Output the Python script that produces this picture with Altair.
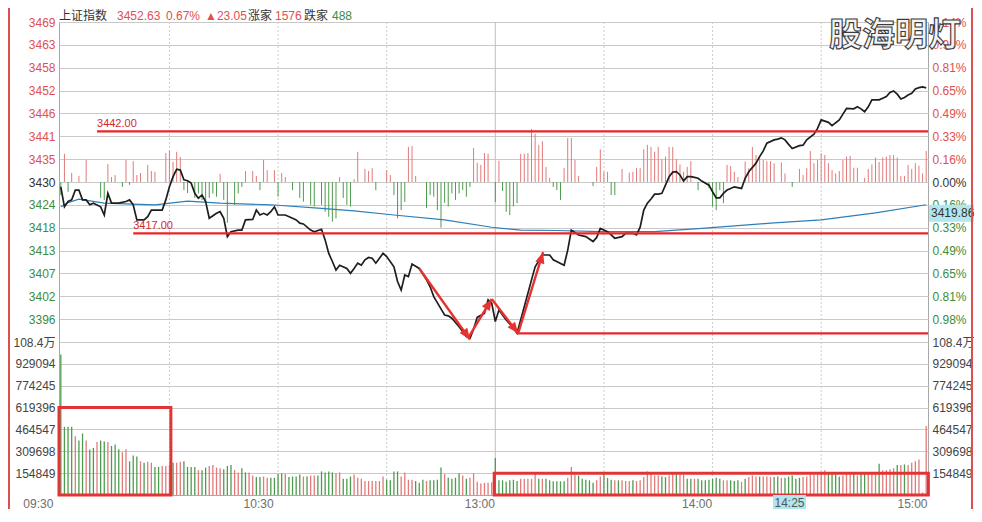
import json
import math
import altair as alt
import pandas as pd

# ------------------------------------------------------------------ data
PRE_CLOSE = 3429.58          # previous close (0.00% line)
PRICE_STEP = 5.6             # price per grid row
VOL_STEP = 154.849           # volume (thousand) per grid row

header_name = "上证指数"
header_last = "3452.63"
header_pct = "0.67%"
header_change = "▲23.05"
header_up_label = "涨家"
header_up_count = "1576"
header_down_label = "跌家"
header_down_count = "488"

price_tick_labels = ["3396", "3402", "3407", "3413", "3418", "3424", "3430",
                     "3435", "3441", "3446", "3452", "3458", "3463", "3469"]
pct_tick_labels = ["0.98%", "0.81%", "0.65%", "0.49%", "0.33%", "0.16%", "0.00%",
                   "0.16%", "0.33%", "0.49%", "0.65%", "0.81%", "0.98%", "1.14%"]
vol_tick_labels = ["154849", "309698", "464547", "619396", "774245", "929094", "108.4万"]
time_tick_minutes = [0, 60, 120, 180, 239.5]
time_tick_labels = ["09:30", "10:30", "13:00", "14:00", "15:00"]
grid_minutes_dashed = [30, 60, 90, 150, 180, 210]
grid_minutes_solid = [120]

# minute index (0 = 09:30, 120 = 13:00) -> index level
price_track = [
    (0, 3428.4), (1, 3423.5), (2, 3424.8), (3, 3425.2), (4, 3427.6), (5, 3427.6),
    (6, 3425.2), (7, 3425.2), (8, 3424.0), (9, 3424.4), (11, 3423.5), (12, 3421.5),
    (13, 3426.8), (14, 3424.4), (16, 3424.4), (18, 3424.8), (19, 3425.2), (20, 3424.0),
    (21, 3420.3), (23, 3420.3), (24, 3421.1), (25, 3422.7), (26, 3422.7), (28, 3422.7),
    (29, 3425.2), (30, 3428.4), (31, 3430.9), (32, 3432.7), (33, 3432.5), (34, 3430.1),
    (35, 3429.9), (36, 3429.3), (37, 3426.8), (38, 3425.6), (39, 3426.4), (40, 3424.8),
    (41, 3420.7), (43, 3421.9), (44, 3422.3), (45, 3420.7), (46, 3416.2), (47, 3417.4),
    (49, 3417.8), (50, 3417.8), (51, 3420.3), (53, 3420.4), (54, 3422.7), (55, 3421.5),
    (56, 3421.9), (57, 3421.5), (58, 3422.3), (59, 3423.5), (60, 3421.5), (62, 3421.5),
    (64, 3420.7), (65, 3420.3), (66, 3419.5), (67, 3419.3), (69, 3417.8), (70, 3417.4),
    (72, 3418.0), (73, 3415.4), (74, 3412.1), (75, 3410.1), (76, 3408.0), (77, 3409.2),
    (79, 3408.4), (80, 3407.2), (81, 3408.4), (82, 3409.7), (83, 3409.2), (84, 3410.5),
    (85, 3411.1), (86, 3410.9), (87, 3409.7), (88, 3410.9), (89, 3412.1), (90, 3411.3),
    (92, 3408.8), (93, 3405.2), (94, 3403.1), (95, 3406.8), (96, 3406.4), (97, 3409.5),
    (99, 3408.4), (101, 3405.6), (102, 3403.9), (103, 3401.5), (105, 3398.5), (106, 3397.0),
    (107, 3396.8), (108, 3396.2), (110, 3394.1), (112, 3391.7), (113, 3391.3), (114, 3393.5),
    (115, 3396.4), (117, 3397.4), (118, 3400.7), (119, 3399.9),
    (120, 3395.4), (121, 3398.2), (122, 3397.0), (123, 3395.8), (125, 3393.8), (126, 3392.5),
    (128, 3399.0), (130, 3405.6), (131, 3408.8), (133, 3411.7), (135, 3411.7), (136, 3410.5),
    (139, 3409.2), (140, 3412.9), (141, 3417.8), (143, 3416.6), (145, 3416.2), (147, 3415.0),
    (148, 3416.0), (149, 3418.2), (151, 3417.4), (153, 3415.8), (155, 3416.2), (156, 3417.0),
    (158, 3417.0), (159, 3416.6), (160, 3418.5), (161, 3422.7), (162, 3424.4), (163, 3425.4),
    (164, 3426.6), (165, 3426.6), (166, 3426.8), (167, 3428.8), (168, 3430.9), (169, 3432.0),
    (170, 3432.1), (171, 3431.3), (172, 3429.8), (173, 3430.9), (174, 3430.9), (175, 3430.7),
    (176, 3430.5), (177, 3429.8), (179, 3428.8), (180, 3427.2), (181, 3425.7), (182, 3425.7),
    (183, 3426.8), (184, 3427.6), (185, 3428.0), (186, 3428.4), (188, 3428.0), (189, 3430.5),
    (190, 3432.1), (192, 3434.2), (193, 3435.8), (194, 3437.2), (195, 3439.1), (197, 3439.9),
    (198, 3440.1), (199, 3440.4), (200, 3439.9), (201, 3438.8), (202, 3437.8), (204, 3438.5),
    (205, 3438.6), (206, 3439.9), (208, 3441.3), (209, 3442.7), (210, 3444.8), (212, 3444.2),
    (213, 3443.4), (215, 3444.8), (216, 3446.2), (217, 3447.6), (219, 3447.5), (220, 3448.0),
    (221, 3447.5), (222, 3446.8), (223, 3448.0), (224, 3449.7), (226, 3449.7), (227, 3450.1),
    (228, 3450.5), (229, 3451.5), (230, 3451.9), (231, 3451.1), (232, 3449.9), (233, 3450.3),
    (234, 3450.9), (235, 3451.3), (236, 3452.4), (237, 3452.7), (238, 3452.9), (239, 3452.63),
]

avg_track = [
    (0, 3423.5), (2, 3424.5), (5, 3425.4), (12, 3424.4), (26, 3424.0), (35, 3424.9),
    (44, 3424.4), (58, 3424.0), (72, 3423.1), (81, 3422.5), (92, 3421.5), (106, 3420.3),
    (119, 3418.5), (127, 3417.8), (137, 3417.7), (149, 3417.4), (164, 3417.4), (177, 3418.2),
    (196, 3419.5), (210, 3420.3), (225, 3422.0), (239, 3424.0),
]

# red / green breadth bars drawn from the 0.00% line (in index points)
breadth_up = [
    (1, 6.9), (3, 2.2), (5, 1.5), (7, 5.4), (13, 4.4), (14, 1.2), (15, 1.7), (18, 5.4),
    (20, 5.1), (21, 1.7), (22, 2.2), (24, 4.2), (25, 2.7), (26, 2.5), (29, 7.1), (30, 7.7),
    (31, 4.9), (32, 7.4), (33, 6.1), (44, 2.0), (51, 2.7), (53, 2.7), (54, 1.5), (56, 5.4),
    (57, 2.9), (59, 2.9), (61, 2.2), (62, 1.2), (77, 1.2), (81, 0.7), (82, 7.4), (84, 3.2),
    (85, 2.7), (86, 3.4), (90, 2.9), (91, 1.7), (96, 8.6), (97, 8.8), (98, 1.5), (114, 8.3),
    (115, 4.7), (116, 4.2), (117, 7.1), (118, 6.9), (121, 5.2), (127, 6.9), (128, 6.9),
    (129, 7.1), (130, 13.0), (131, 11.8), (132, 9.1), (133, 10.0), (134, 3.7), (135, 1.0),
    (139, 3.4), (140, 10.8), (141, 10.8), (142, 5.4), (143, 1.5), (148, 3.7), (149, 8.0),
    (150, 2.5), (151, 2.5), (155, 3.2), (157, 2.3), (158, 2.5), (159, 3.4), (160, 3.4),
    (161, 8.0), (162, 9.1), (163, 8.6), (164, 7.4), (165, 8.6), (166, 5.6), (167, 6.2),
    (168, 8.6), (169, 8.6), (170, 5.6), (171, 4.3), (172, 2.5), (173, 3.7), (174, 5.1),
    (184, 4.2), (185, 3.9), (186, 2.5), (187, 1.2), (189, 5.0), (190, 3.4), (191, 8.6),
    (192, 6.6), (193, 5.8), (194, 5.4), (195, 5.1), (196, 5.1), (197, 4.6), (199, 4.8),
    (200, 2.1), (204, 3.2), (205, 1.7), (206, 3.4), (207, 7.6), (208, 4.6), (209, 5.4),
    (210, 7.0), (211, 6.6), (212, 4.6), (213, 2.9), (214, 2.1), (215, 2.7), (216, 5.4),
    (217, 6.2), (218, 6.4), (219, 3.5), (220, 3.5), (222, 1.0), (223, 3.2), (224, 4.3),
    (225, 6.0), (226, 4.9), (227, 6.0), (228, 6.2), (229, 6.6), (230, 6.6), (231, 6.0),
    (232, 1.5), (233, 1.5), (234, 4.2), (235, 3.2), (236, 4.6), (237, 4.0), (238, 2.1),
    (239, 7.6),
]
breadth_down = [
    (0, 3.2), (2, 2.4), (11, 3.9), (12, 4.4), (17, 1.2), (19, 0.7), (34, 2.0), (35, 2.7),
    (37, 3.9), (38, 2.8), (39, 4.4), (40, 5.1), (41, 3.9), (42, 2.8), (43, 3.6), (45, 4.4),
    (46, 10.0), (48, 5.6), (49, 2.8), (50, 1.2), (55, 2.0), (60, 3.6), (64, 2.0), (66, 3.9),
    (67, 4.8), (69, 5.6), (70, 6.0), (72, 5.6), (73, 7.3), (74, 8.5), (75, 9.7), (76, 8.9),
    (78, 3.9), (79, 5.6), (80, 6.0), (87, 2.0), (92, 3.2), (93, 8.9), (94, 6.9), (95, 4.9),
    (101, 6.4), (102, 3.2), (103, 3.6), (104, 6.9), (105, 11.2), (106, 5.1), (107, 6.0),
    (108, 2.8), (109, 4.4), (110, 2.8), (111, 2.0), (112, 3.6), (113, 1.2), (120, 4.9),
    (122, 2.2), (123, 7.3), (124, 8.1), (125, 6.0), (126, 5.2), (136, 1.2), (137, 2.0),
    (138, 4.4), (147, 1.0), (152, 3.2), (153, 3.2), (176, 2.0), (179, 1.5), (180, 6.0),
    (181, 6.9), (182, 2.0), (183, 5.2), (202, 1.2),
]

# per-minute volume (thousand shares); r = up minute, g = down minute
vol_morning = [
    996, 483, 483, 483, 416, 386, 436, 386, 323, 334,
    375, 386, 379, 375, 348, 357, 325, 303, 325, 239,
    280, 273, 239, 228, 235, 228, 199, 199, 206, 206,
    212, 228, 228, 235, 239, 199, 199, 199, 176, 176,
    194, 206, 212, 194, 190, 183, 206, 212, 176, 160,
    190, 160, 160, 138, 127, 127, 131, 122, 122, 122,
    149, 154, 149, 127, 131, 131, 145, 131, 131, 138,
    138, 138, 167, 160, 167, 160, 154, 160, 115, 115,
    131, 145, 122, 115, 99, 99, 99, 99, 99, 131,
    108, 104, 167, 167, 131, 160, 108, 108, 99, 86,
    108, 99, 104, 104, 108, 194, 149, 122, 115, 122,
    154, 138, 115, 122, 154, 93, 81, 86, 86, 90,
]
vol_afternoon = [
    262, 104, 104, 93, 104, 108, 99, 115, 115, 115,
    115, 160, 115, 115, 115, 104, 97, 97, 97, 97,
    122, 199, 145, 138, 115, 108, 104, 86, 104, 131,
    154, 120, 108, 104, 104, 104, 99, 99, 104, 99,
    104, 127, 167, 160, 138, 138, 131, 127, 138, 154,
    145, 145, 145, 115, 115, 115, 115, 104, 104, 108,
    115, 122, 115, 104, 104, 104, 99, 104, 93, 115,
    127, 138, 131, 131, 131, 131, 127, 127, 131, 122,
    122, 131, 138, 115, 122, 127, 131, 145, 145, 145,
    154, 176, 154, 154, 145, 131, 138, 149, 149, 149,
    138, 149, 149, 149, 149, 160, 221, 176, 176, 183,
    190, 212, 212, 217, 212, 228, 239, 251, 18, 488,
]
dir_morning = ("ggggrggrgg rggrgggrrg ggrgrrggrr rgrrggggrg grrrrgggrr ggrrggrrgg "
               "ggrggggrgr rgggggrrgg grrrrrrrrr ggggrrrrgg grggggrggg grgrrrrrrr")
dir_afternoon = ("gggggggrrr rrgrgggggg rrrgggggrr gggrgrrrgr rrrrrrggrr grrggrgggg "
                 "gggrrgggrg rrrgrrrggr gggggrrrrr rrggggrrrg rggrrrgrrr rgrgrrrrrk")

support_lines = [(10, 3442.00, "3442.00"), (20, 3417.00, "3417.00"), (126, 3392.5, "")]
trend_arrows = [(99, 3408.4, 113, 3391.0), (112.5, 3391.4, 119, 3400.9),
                (119, 3400.9, 126.3, 3392.5), (126.3, 3392.5, 133.2, 3412.4)]
volume_boxes = [(-0.5, 30.4, 0, 4 * VOL_STEP), (119.7, 239.6, 0, VOL_STEP)]
crosshair_price = 3419.86
crosshair_price_label = "3419.86"
crosshair_time_label = "14:25"
watermark = "股海明灯"

# ------------------------------------------------------------------ layout / style
W, H = 869, 473                 # plot area (fits the 982x522 window with the 8px margin)
PRICE_ROWS_PX = 320             # 14 price rows
VOL_ROWS_PX = H - PRICE_ROWS_PX  # 7 volume rows
FONT = "Liberation Sans, Noto Sans CJK SC, sans-serif"
RED_TXT = "#e05050"
GREEN_TXT = "#3c8c3c"
DARK = "#333333"
GRID = "#c9c9c9"
LINE_RED = "#e8262a"

price_top = PRE_CLOSE + 7 * PRICE_STEP
PRICE_DOMAIN = [price_top - 14 * PRICE_STEP * H / PRICE_ROWS_PX, price_top]
VOL_DOMAIN = [0, 7 * VOL_STEP * H / VOL_ROWS_PX]
X_SCALE = alt.Scale(domain=[-0.5, 239.5], nice=False, zero=False)


def js(v):
    return json.dumps(v, ensure_ascii=False)


X_AXIS = alt.Axis(
    values=time_tick_minutes,
    labelExpr=f"{js(time_tick_labels)}[indexof({js(time_tick_minutes)}, datum.value)]",
    title=None, grid=False, ticks=False, domain=False,
    labelAlign="right", labelBaseline="top", labelPadding=3,
    labelColor="#6e6e6e", labelFont=FONT, labelFontSize=12,
    labelFlush=False, labelOverlap=False, labelBound=False,
    labelOffset={"condition": [{"test": "datum.value == 0", "value": -8},
                               {"test": "datum.value == 60", "value": -5}],
                 "value": -1},
)


def X(field):
    return alt.X(field, type="quantitative", scale=X_SCALE, axis=X_AXIS)


def YP(field, axis=None):
    return alt.Y(field, type="quantitative",
                 scale=alt.Scale(domain=PRICE_DOMAIN, nice=False, zero=False), axis=axis)


def YV(field, axis=None):
    return alt.Y(field, type="quantitative",
                 scale=alt.Scale(domain=VOL_DOMAIN, nice=False, zero=False), axis=axis)


price_ticks = [PRE_CLOSE + k * PRICE_STEP for k in range(-6, 8)]
vol_ticks = [VOL_STEP * k for k in range(1, 8)]
sign_color = {"condition": [{"test": f"datum.value > {PRE_CLOSE + 1}", "value": RED_TXT},
                            {"test": f"datum.value < {PRE_CLOSE - 1}", "value": GREEN_TXT}],
              "value": DARK}
price_idx = f"round((datum.value - {PRE_CLOSE}) / {PRICE_STEP}) + 6"
vol_idx = f"round(datum.value / {VOL_STEP}) - 1"

common_axis = dict(title=None, ticks=False, domain=False, labelFont=FONT, labelFontSize=12,
                   labelOverlap=False, labelFlush=False, labelBound=False,
                   labelBaseline="middle")

AX_PRICE = alt.Axis(orient="left", values=price_ticks, grid=True, gridColor=GRID,
                    labelExpr=f"{js(price_tick_labels)}[{price_idx}]",
                    labelColor=sign_color, labelPadding=4, **common_axis)
AX_PCT = alt.Axis(orient="right", values=price_ticks, grid=False, zindex=0,
                  labelExpr=f"{js(pct_tick_labels)}[{price_idx}]",
                  labelColor=sign_color, labelPadding=4, **common_axis)
AX_VOL_L = alt.Axis(orient="left", values=vol_ticks, grid=True, gridColor=GRID,
                    labelExpr=f"{js(vol_tick_labels)}[{vol_idx}]",
                    labelColor="#444444", labelPadding=4, **common_axis)
AX_VOL_R = alt.Axis(orient="right", values=vol_ticks, grid=False,
                    labelExpr=f"{js(vol_tick_labels)}[{vol_idx}]",
                    labelColor="#444444", labelPadding=4, **common_axis)

one = pd.DataFrame({"p": [PRE_CLOSE], "v": [VOL_STEP]})

layers = []

# axes carriers
layers.append(alt.Chart(one).mark_point(opacity=0).encode(x=alt.value(0), y=YP("p", AX_PRICE)))
layers.append(alt.Chart(one).mark_point(opacity=0).encode(x=alt.value(0), y=YP("p", AX_PCT)))
layers.append(alt.Chart(one).mark_point(opacity=0).encode(x=alt.value(0), y=YV("v", AX_VOL_L)))
layers.append(alt.Chart(one).mark_point(opacity=0).encode(x=alt.value(0), y=YV("v", AX_VOL_R)))

# vertical grid
layers.append(alt.Chart(pd.DataFrame({"m": grid_minutes_dashed})).mark_rule(
    color="#cdcdcd", strokeDash=[2, 2], strokeWidth=1).encode(
    x=X("m"), y=alt.value(0), y2=alt.value(H)))
layers.append(alt.Chart(pd.DataFrame({"m": grid_minutes_solid})).mark_rule(
    color="#c0c0c0", strokeWidth=1).encode(x=X("m"), y=alt.value(0), y2=alt.value(H)))

# breadth bars
bre = pd.DataFrame(
    [{"m": m, "base": PRE_CLOSE, "top": PRE_CLOSE + v, "d": "r"} for m, v in breadth_up]
    + [{"m": m, "base": PRE_CLOSE, "top": PRE_CLOSE - v, "d": "g"} for m, v in breadth_down])
layers.append(alt.Chart(bre).mark_rule(strokeWidth=1).encode(
    x=X("m"), y=YP("base"), y2=alt.Y2("top"),
    color=alt.Color("d:N", scale=alt.Scale(domain=["r", "g"], range=["#e27a7a", "#4e9b4e"]),
                    legend=None)))

# volume bars
dirs = (dir_morning + dir_afternoon).replace(" ", "")
vols = vol_morning + vol_afternoon
vdf = pd.DataFrame({"m": list(range(len(vols))), "v": vols, "z": 0, "d": list(dirs)})
layers.append(alt.Chart(vdf).mark_rule(strokeWidth=1.3).encode(
    x=X("m"), y=YV("z"), y2=alt.Y2("v"),
    color=alt.Color("d:N", scale=alt.Scale(domain=["r", "g", "k"],
                                           range=["#e26a6a", "#439843", "#555555"]),
                    legend=None)))

# average line and price line
adf = pd.DataFrame(avg_track, columns=["m", "p"])
layers.append(alt.Chart(adf).mark_line(color="#2d7fb8", strokeWidth=1.2).encode(
    x=X("m"), y=YP("p")))
pdf = pd.DataFrame(price_track, columns=["m", "p"])
layers.append(alt.Chart(pdf).mark_line(color="#1e1e1e", strokeWidth=1.7).encode(
    x=X("m"), y=YP("p")))

# support / resistance lines
sdf = pd.DataFrame([{"m": m, "m2": 239.5, "p": p, "t": t} for m, p, t in support_lines])
layers.append(alt.Chart(sdf).mark_rule(color=LINE_RED, strokeWidth=2.3).encode(
    x=X("m"), x2=alt.X2("m2"), y=YP("p")))
layers.append(alt.Chart(sdf).mark_text(align="left", baseline="bottom", dy=-2, font=FONT,
                                       fontSize=11, color="#d42828").encode(
    x=X("m"), y=YP("p"), text="t:N"))

# trend arrows
px_per_min = W / 240.0
px_per_pt = H / (PRICE_DOMAIN[1] - PRICE_DOMAIN[0])
arr = []
for m1, p1, m2, p2 in trend_arrows:
    sx = (m2 - m1) * px_per_min
    sy = -(p2 - p1) * px_per_pt
    ang = math.degrees(math.atan2(sx, -sy)) % 360
    arr.append({"m1": m1, "p1": p1, "m2": m2, "p2": p2, "a": ang})
ardf = pd.DataFrame(arr)
layers.append(alt.Chart(ardf).mark_rule(color="#e83232", strokeWidth=2.4).encode(
    x=X("m1"), x2=alt.X2("m2"), y=YP("p1"), y2=alt.Y2("p2")))
layers.append(alt.Chart(ardf).mark_point(
    shape="M0,0L0.42,1L-0.42,1Z", filled=True, opacity=1, color="#e83232", size=500,
    strokeWidth=0).encode(x=X("m2"), y=YP("p2"), angle=alt.Angle("a:Q", scale=None)))

# highlight boxes in the volume panel
bdf = pd.DataFrame(volume_boxes, columns=["m1", "m2", "v1", "v2"])
layers.append(alt.Chart(bdf).mark_rect(fillOpacity=0, stroke="#e23434", strokeWidth=3).encode(
    x=X("m1"), x2=alt.X2("m2"), y=YV("v1"), y2=alt.Y2("v2")))

# crosshair labels (value box on the right axis, time box on the time axis)
cdf = pd.DataFrame({"p": [crosshair_price], "p2": [crosshair_price + 17 / px_per_pt],
                    "t": [crosshair_price_label]})
layers.append(alt.Chart(cdf).mark_rect(color="#b2e6ee").encode(
    x=alt.value(870), x2=alt.value(915), y=YP("p"), y2=alt.Y2("p2")))
layers.append(alt.Chart(cdf).mark_text(align="left", baseline="middle", dy=-8.5, font=FONT,
                                       fontSize=12, color=DARK).encode(
    x=alt.value(872), y=YP("p"), text="t:N"))
layers.append(alt.Chart(one).mark_rect(color="#b2e6ee").encode(
    x=alt.value(714), x2=alt.value(747), y=alt.value(H), y2=alt.value(H + 14)))
layers.append(alt.Chart(one).mark_text(align="center", baseline="top", font=FONT, fontSize=12,
                                       color="#555555").encode(
    x=alt.value(730.5), y=alt.value(H + 3), text=alt.value(crosshair_time_label)))

# header
header = [(header_name, 0, DARK), (header_last, 58, RED_TXT), (header_pct, 107, RED_TXT),
          (header_change, 146, RED_TXT), (header_up_label, 189, DARK),
          (header_up_count, 216, RED_TXT), (header_down_label, 245, DARK),
          (header_down_count, 273, GREEN_TXT)]
for txt, xo, col in header:
    layers.append(alt.Chart(one).mark_text(align="left", baseline="middle", font=FONT,
                                           fontSize=12, color=col).encode(
        x=alt.value(xo), y=alt.value(-6.5), text=alt.value(txt)))

# watermark
layers.append(alt.Chart(one).mark_text(align="center", baseline="middle",
                                       font="Noto Sans CJK SC", fontSize=33, fontWeight="bold",
                                       fill="#f3f3f3", stroke="#3c3c3c", strokeWidth=1.1).encode(
    x=alt.value(836), y=alt.value(14), text=alt.value(watermark)))

# outer frame (left and right edges)
FR = "#d8504f"
layers.append(alt.Chart(one).mark_rule(color=FR, strokeWidth=2).encode(
    x=alt.value(913), y=alt.value(-14), y2=alt.value(H + 14)))
layers.append(alt.Chart(one).mark_rule(color=FR, strokeWidth=2).encode(
    x=alt.value(-50), y=alt.value(-14), y2=alt.value(H + 14)))

chart = alt.layer(*layers).resolve_scale(y="independent").properties(
    width=W, height=H,
    autosize=alt.AutoSizeParams(type="none"),
    padding={"left": 51, "top": 14, "right": 46, "bottom": 14},
    background="white",
).configure_view(stroke="#a8a8a8", strokeWidth=1)

chart.save("out.html", embed_options={"renderer": "svg", "actions": False})
